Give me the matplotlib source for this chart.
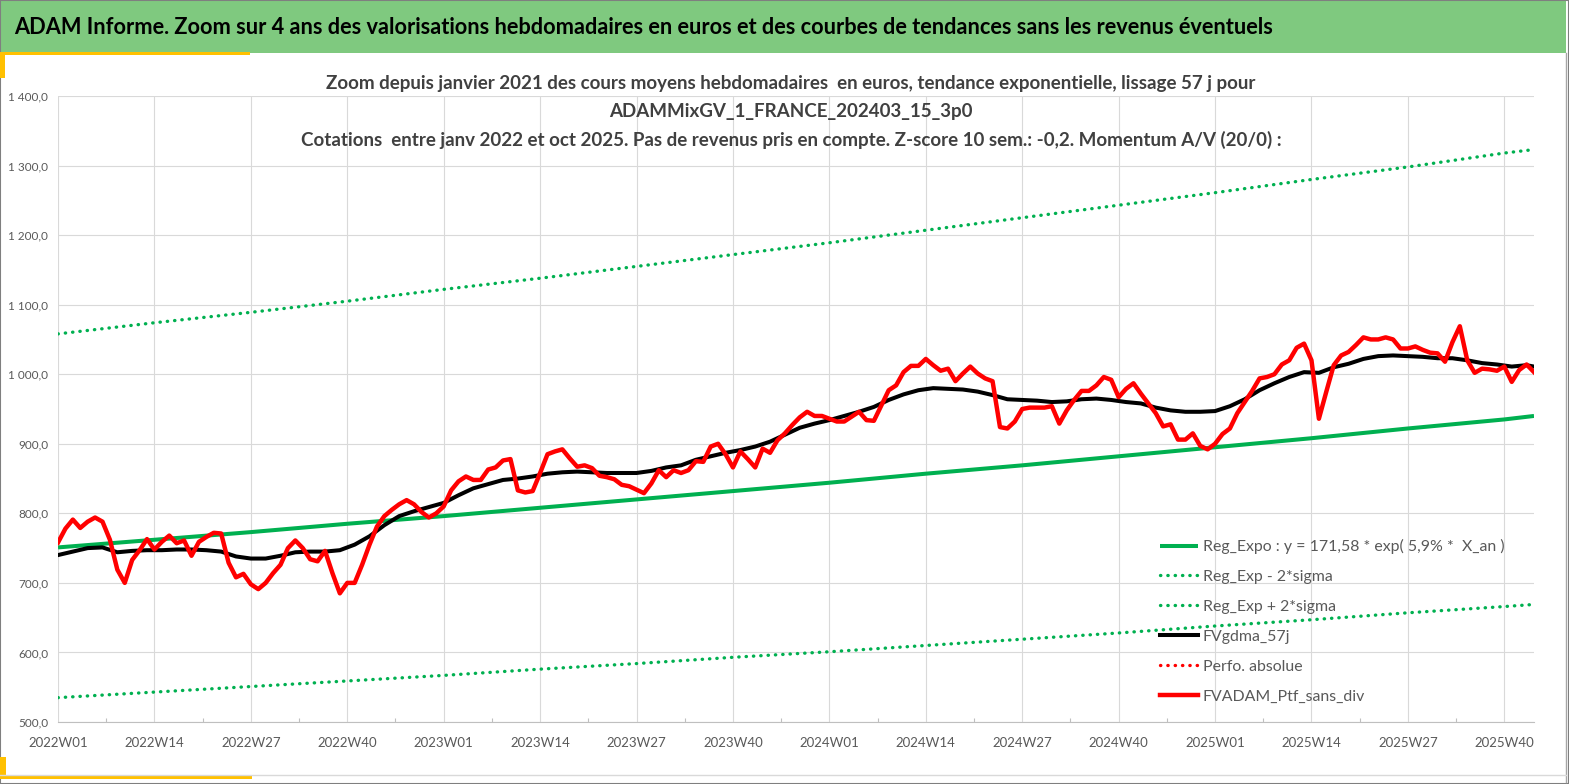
import matplotlib
matplotlib.use("Agg")
import matplotlib.pyplot as plt
from matplotlib.patches import Rectangle
from matplotlib.lines import Line2D
from matplotlib.ticker import FuncFormatter, FixedLocator

plt.rcParams["font.family"] = ["Lato", "DejaVu Sans"]

# ---------------------------------------------------------------------------
# Data (weekly points, 2022W01 .. 2025W44)
# ---------------------------------------------------------------------------
ptf_sans_div = [
    758, 778, 791, 779, 788, 794, 788, 762, 719, 700, 733, 747, 763, 748, 759, 768,
    757, 761, 739, 759, 766, 772, 771, 729, 708, 713, 698, 691, 700, 714, 726, 750,
    761, 750, 734, 731, 746, 714, 685, 700, 700, 726, 755, 781, 796, 805, 813, 819,
    813, 802, 794, 800, 810, 833, 846, 853, 848, 848, 863, 866, 876, 878, 833, 830,
    832, 858, 885, 889, 892, 879, 867, 869, 865, 854, 852, 849, 841, 839, 834, 829,
    843, 862, 852, 862, 858, 862, 875, 874, 896, 900, 885, 866, 889, 878, 866, 893,
    887, 905, 915, 927, 938, 946, 940, 940, 936, 932, 932, 939, 946, 934, 933, 955,
    977, 984, 1003, 1012, 1012, 1022, 1013, 1005, 1008, 990, 1001, 1011, 1001, 994, 990, 924,
    922, 932, 950, 952, 952, 952, 954, 929, 948, 963, 976, 976, 984, 996, 992, 967,
    979, 987, 972, 958, 944, 925, 928, 906, 906, 915, 897, 892, 900, 914, 922, 944,
    960, 976, 994, 996, 1000, 1014, 1020, 1038, 1044, 1020, 936, 975, 1013, 1027, 1032, 1042,
    1053, 1050, 1050, 1053, 1050, 1037, 1037, 1040, 1035, 1031, 1030, 1018, 1046, 1069, 1020, 1002,
    1008, 1007, 1005, 1011, 989, 1006, 1014, 1003,
]

# 57-day moving average, read every second week
gdma_weeks = list(range(0, 199, 2)) + [199]
gdma_57j = [
    740, 745, 750, 751, 744, 746, 747, 747, 748, 748, 747, 745, 738, 735, 735, 739,
    744, 745, 745, 747, 755, 767, 783, 796, 803, 809, 815, 826, 836, 842, 848, 850,
    853, 857, 859, 860, 859, 858, 858, 858, 861, 866, 869, 877, 882, 887, 891, 896,
    903, 913, 923, 929, 934, 940, 946, 953, 963, 971, 977, 980, 979, 978, 975, 970,
    964, 963, 962, 960, 961, 964, 965, 963, 960, 958, 952, 948, 946, 946, 947, 954,
    964, 977, 987, 996, 1003, 1002, 1010, 1015, 1022, 1026, 1027, 1026, 1025, 1023, 1023, 1020,
    1016, 1014, 1011, 1013, 1011,
]

# exponential regression and its +/- 2 sigma bands, read at the label weeks
reg_weeks = [0, 13, 26, 39, 52, 65, 78, 91, 104, 117, 130, 143, 156, 169, 182, 195, 199]
reg_expo = [751, 762, 773, 785, 796, 808, 820, 832, 844, 857, 869, 882, 895, 908, 922, 935, 940]
reg_plus = [1058, 1074, 1089, 1105, 1122, 1138, 1155, 1172, 1189, 1207, 1225, 1243, 1261, 1280, 1298, 1318, 1323]
reg_minus = [535, 543, 551, 559, 567, 576, 584, 593, 601, 610, 619, 628, 638, 647, 657, 666, 669]

tick_weeks = [0, 13, 26, 39, 52, 65, 78, 91, 104, 117, 130, 143, 156, 169, 182, 195]
tick_labels = ["2022W01", "2022W14", "2022W27", "2022W40",
               "2023W01", "2023W14", "2023W27", "2023W40",
               "2024W01", "2024W14", "2024W27", "2024W40",
               "2025W01", "2025W14", "2025W27", "2025W40"]

title = ("ADAM Informe. Zoom sur 4 ans des valorisations hebdomadaires en euros "
         "et des courbes de tendances sans les revenus éventuels")
subtitle = ["Zoom depuis janvier 2021 des cours moyens hebdomadaires  en euros, "
            "tendance exponentielle, lissage 57 j pour",
            "ADAMMixGV_1_FRANCE_202403_15_3p0",
            "Cotations  entre janv 2022 et oct 2025. Pas de revenus pris en compte. "
            "Z-score 10 sem.: -0,2. Momentum A/V (20/0) :"]

# ---------------------------------------------------------------------------
W, H, DPI = 1569, 784, 100
GREEN = "#00B050"
GOLD = "#FFC000"
GREY_TXT = "#595959"

fig = plt.figure(figsize=(W / DPI, H / DPI), dpi=DPI)


def fx(px):
    return px / W


def fy(py):
    return 1 - py / H


# frame, title bar and the small gold marks of the sheet
fig.add_artist(Rectangle((fx(1), fy(53)), fx(1565), 52 / H, transform=fig.transFigure,
                         facecolor="#7FC97F", edgecolor="none"))
fig.add_artist(Rectangle((0, 0), 1, 1, transform=fig.transFigure, facecolor="none",
                         edgecolor="#7F7F7F", lw=1.5))
fig.add_artist(Line2D([fx(1566), fx(1566)], [fy(53), fy(782)], transform=fig.transFigure,
                      color="#A6A6A6", lw=1))
fig.add_artist(Line2D([0, fx(1566)], [fy(775), fy(775)], transform=fig.transFigure,
                      color="#D9D9D9", lw=1))
fig.add_artist(Rectangle((0, fy(55)), fx(250), 2.5 / H, transform=fig.transFigure,
                         facecolor=GOLD, edgecolor="none"))
fig.add_artist(Rectangle((0, fy(78)), fx(5), 25 / H, transform=fig.transFigure,
                         facecolor=GOLD, edgecolor="none"))
fig.add_artist(Rectangle((0, fy(779)), fx(252), 4 / H, transform=fig.transFigure,
                         facecolor=GOLD, edgecolor="none"))
fig.add_artist(Rectangle((0, fy(779)), fx(6), 22 / H, transform=fig.transFigure,
                         facecolor=GOLD, edgecolor="none"))

fig.text(fx(14), fy(28), title, fontsize=15.7, fontweight="bold", color="black",
         ha="left", va="center")

ax = fig.add_axes([fx(58), fy(722), fx(1534) - fx(58), fy(96) - fy(722)])
ax.set_xlim(0, 199)
ax.set_ylim(500, 1400)

dots = dict(linestyle=(0, (0.1, 2.1)), dash_capstyle="round", lw=2.4, color=GREEN)
l_reg, = ax.plot(reg_weeks, reg_expo, color=GREEN, lw=2.9, solid_capstyle="butt",
                 label="Reg_Expo : y = 171,58 * exp( 5,9% *  X_an )")
l_minus, = ax.plot(reg_weeks, reg_minus, label="Reg_Exp - 2*sigma", **dots)
l_plus, = ax.plot(reg_weeks, reg_plus, label="Reg_Exp + 2*sigma", **dots)
l_gdma, = ax.plot(gdma_weeks, gdma_57j, color="black", lw=2.9, solid_joinstyle="round",
                  label="FVgdma_57j")
l_perf, = ax.plot([], [], color="#FF0000", linestyle=(0, (0.1, 2.1)),
                  dash_capstyle="round", lw=2.4, label="Perfo. absolue")
l_ptf, = ax.plot(range(len(ptf_sans_div)), ptf_sans_div, color="#FF0000", lw=3.2,
                 solid_joinstyle="round", label="FVADAM_Ptf_sans_div")

# axes styling
for side in ["top", "left", "right"]:
    ax.spines[side].set_visible(False)
ax.spines["bottom"].set_color("#BFBFBF")
ax.spines["bottom"].set_linewidth(0.8)
ax.set_yticks(range(500, 1401, 100))
ax.yaxis.set_major_formatter(
    FuncFormatter(lambda v, p: f"{v:,.1f}".replace(",", " ").replace(".", ",")))
ax.set_xticks(tick_weeks)
ax.set_xticklabels(tick_labels)
ax.xaxis.set_minor_locator(FixedLocator([w + 6.5 for w in tick_weeks[:-1]]))
ax.tick_params(axis="y", length=0, pad=7, labelsize=8.5, labelcolor=GREY_TXT)
ax.tick_params(axis="x", which="major", length=0, pad=11, labelsize=9.5,
               labelcolor=GREY_TXT)
ax.tick_params(axis="x", which="minor", direction="in", length=3, width=0.8,
               color="#BFBFBF")
ax.grid(True, which="major", color="#D9D9D9", lw=0.8)
ax.set_axisbelow(True)

for k, line in enumerate(subtitle):
    fig.text(fx(791), fy(84 + 28 * k), line, fontsize=13.5, fontweight="bold",
             color="#404040", ha="center", va="center")

ax.legend(handles=[l_reg, l_minus, l_plus, l_gdma, l_perf, l_ptf],
          loc="upper left", bbox_to_anchor=(fx(1160), fy(539)),
          bbox_transform=fig.transFigure, frameon=False, borderpad=0,
          borderaxespad=0, handlelength=2.4, handletextpad=0.3,
          labelspacing=1.0, fontsize=11.4, labelcolor=GREY_TXT)

fig.savefig("out.png", dpi=DPI)
